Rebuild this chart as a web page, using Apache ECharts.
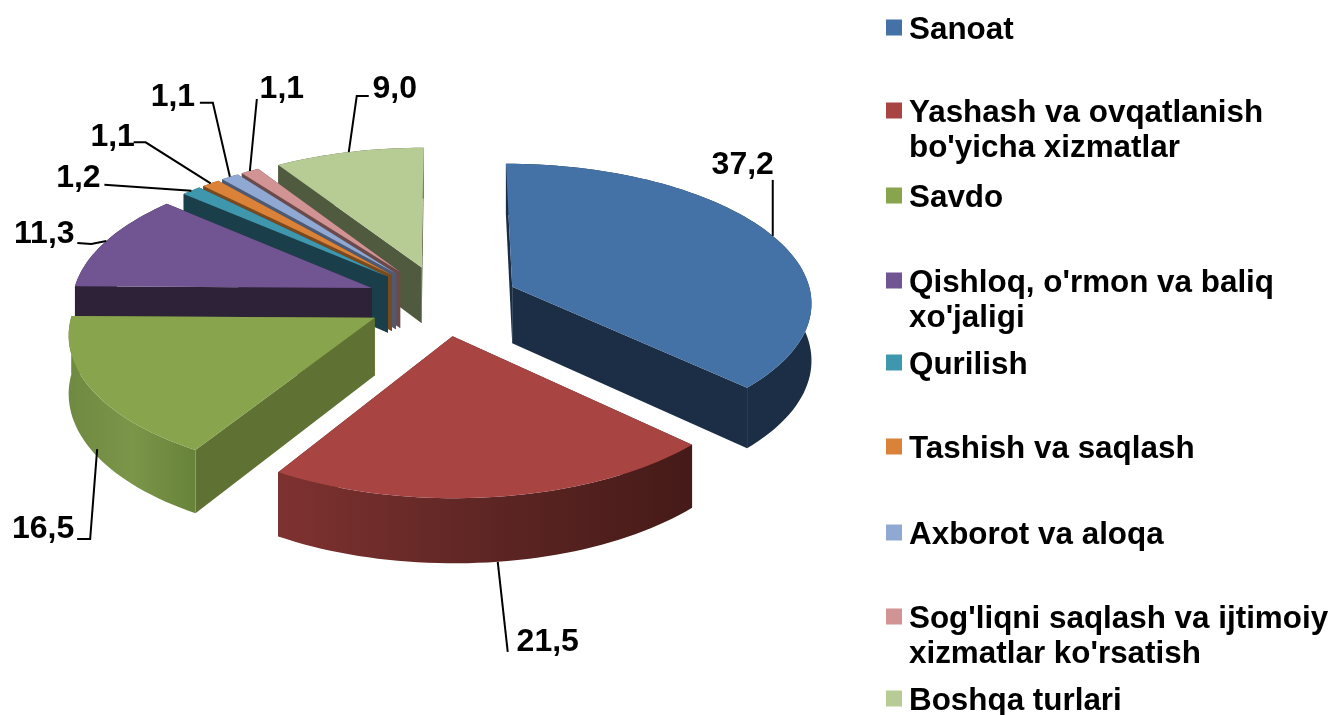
<!DOCTYPE html>
<html><head><meta charset="utf-8">
<style>html,body{margin:0;padding:0;background:#fff}#c{width:1328px;height:715px}</style>
<script src="https://cdn.jsdelivr.net/npm/echarts@6/dist/echarts.min.js"></script>
</head><body><div id="c"></div>
<script>
const categories = ["Sanoat","Yashash va ovqatlanish\nbo'yicha xizmatlar","Savdo","Qishloq, o'rmon va baliq\nxo'jaligi","Qurilish","Tashish va saqlash","Axborot va aloqa","Sog'liqni saqlash va ijtimoiy\nxizmatlar ko'rsatish","Boshqa turlari"];
const values = [37.2,21.5,16.5,11.3,1.2,1.1,1.1,1.1,9.0];

const topColors  = ['#4472a6','#a84543','#88a44c','#715592','#3f97ae','#d98238','#8fa9d3','#d19393','#b7cc94'];
const sideColors = ['#1b2e45','#4a1b19','#5f7233','#2d2238','#1b3f4a','#7a4a1e','#4c5a74','#6b4a4b','#4f5a3e'];
const wallStops  = [null,['#7e3230','#5e2624','#451a18'],['#6f8a41','#7b9649','#678339'],null,null,null,null,null,null];
const paintOrder = [7,9,8,6,5,4,3,2,1];
const legendTops = [13,96,181,266,348,432,518,602,684];
const leaderOffsets = [[[0,-56]],[[10,90]],[[-7,90],[-20,90]],[[-15,3],[-29,2]],[[-87,-6]],[[-65,-41],[-77,-41]],[[-17,-74],[-30,-74]],[[7,-72]],[[8,-56],[20,-56]]];
const labelOffsets = [[-30,-71],[50,80],[-54,80],[-62,-7],[-113,-12],[-98,-46],[-57,-80],[32,-82],[46,-63]];
const leaderDepth = [0,1,0.88,0,0,0,0,0,0];
const leaderFraction = [0.5,0.5,0.46,0.5,0.5,0.5,0.5,0.5,0.5];

const CX=442.5, CY=300.5, SCALE=300, TILT=0.46, PERSP=0.1, DEPTH=57, EXPLODE=0.255;
const total = values.reduce((a,b)=>a+b,0);
const starts = []; values.reduce((acc,v,i)=>{starts[i]=acc;return acc+v;},0);
const rad = v => v/total*2*Math.PI;

function proj(X,Y,z){
  const f=1/(1-PERSP*Y);
  return [CX+SCALE*X*f, CY+SCALE*TILT*Y*f+DEPTH*z*f];
}
function renderSlice(i){
  return function(params,api){
    const v=api.value(0), a0=rad(starts[i]), a1=a0+rad(v), mid=(a0+a1)/2;
    const ox=Math.sin(mid)*EXPLODE, oy=-Math.cos(mid)*EXPLODE;
    const rim=(a,z)=>proj(ox+Math.sin(a),oy-Math.cos(a),z);
    const apex=z=>proj(ox,oy,z);
    const arc=[]; const n=Math.max(4,Math.ceil((a1-a0)/0.03));
    for(let k=0;k<=n;k++) arc.push(a0+(a1-a0)*k/n);
    const kids=[];
    const poly=(pts,fill)=>kids.push({type:'polygon',shape:{points:pts},style:{fill:fill,stroke:null}});
    poly([apex(0),rim(a1,0),rim(a1,1),apex(1)],sideColors[i]);
    poly([apex(0),rim(a0,0),rim(a0,1),apex(1)],sideColors[i]);
    const wall=arc.map(a=>rim(a,0)).concat(arc.slice().reverse().map(a=>rim(a,1)));
    const st=wallStops[i];
    poly(wall, st ? new echarts.graphic.LinearGradient(0,0,1,0,[{offset:0,color:st[0]},{offset:.5,color:st[1]},{offset:1,color:st[2]}]) : sideColors[i]);
    poly([apex(0)].concat(arc.map(a=>rim(a,0))),topColors[i]);
    const anchor=rim(a0+(a1-a0)*leaderFraction[i],leaderDepth[i]);
    const line=[anchor].concat(leaderOffsets[i].map(o=>[anchor[0]+o[0],anchor[1]+o[1]]));
    kids.push({type:'polyline',shape:{points:line},style:{fill:null,stroke:'#000',lineWidth:2}});
    kids.push({type:'text',style:{x:anchor[0]+labelOffsets[i][0],y:anchor[1]+labelOffsets[i][1],text:v.toFixed(1).replace('.',','),
      fontFamily:'Liberation Sans',fontWeight:'bold',fontSize:32,fill:'#000',align:'center',verticalAlign:'middle'}});
    return {type:'group',children:kids};
  };
}
const SQUARE='M0 0H16V16H0Z';
const option={
  animation:false,
  backgroundColor:'#fff',
  legend:categories.map((c,i)=>{
    const two=c.indexOf('\n')>=0, h=two?57:22;
    return {left:886,top:legendTops[i],padding:0,orient:'vertical',selectedMode:false,data:[c],
      itemWidth:16,itemHeight:h,itemGap:0,
      icon:'path://'+SQUARE+' M0 '+h+'L0 '+h+'Z',
      textStyle:{fontFamily:'Liberation Sans',fontWeight:'bold',fontSize:31.4,lineHeight:35,color:'#000',padding:[0,0,0,2]}};
  }),
  series:categories.map((c,i)=>({
    type:'custom',name:c,coordinateSystem:'none',z:paintOrder[i],silent:true,
    itemStyle:{color:topColors[i]},
    data:[[values[i]]],
    renderItem:renderSlice(i)
  }))
};
echarts.init(document.getElementById('c'),null,{renderer:'canvas'}).setOption(option);
</script></body></html>
